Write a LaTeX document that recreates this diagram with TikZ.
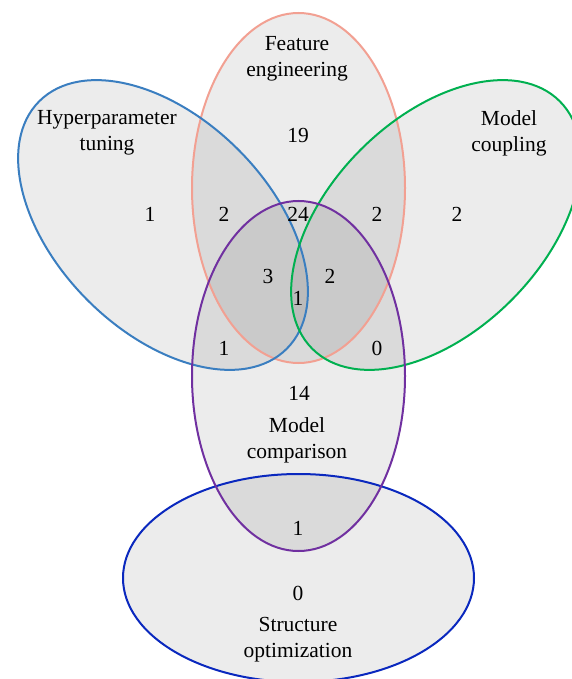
\documentclass[tikz,border=0pt]{standalone}
\usepackage{fontspec}
\setmainfont{Liberation Serif}
\definecolor{hypblue}{RGB}{58,126,192}
\definecolor{featsalmon}{RGB}{242,160,146}
\definecolor{cplgreen}{RGB}{0,176,80}
\definecolor{cmppurple}{RGB}{112,48,160}
\definecolor{strblue}{RGB}{10,40,190}
\tikzset{
  setfill/.style={fill=black, fill opacity=0.075},
  setline/.style={line width=2pt},
  lbl/.style={font=\fontsize{21.5}{26}\selectfont, align=center, inner sep=0pt},
  num/.style={font=\fontsize{21.5}{26}\selectfont, inner sep=0pt},
}
\begin{document}
\begin{tikzpicture}[x=1pt, y=-1pt]
\useasboundingbox (0,0) rectangle (571,679);

% set centres
\coordinate (cFeat) at (298.5,188);
\coordinate (cCmp)  at (298.5,376);
\coordinate (cStr)  at (298.5,578);
\coordinate (cHyp)  at (163,225);
\coordinate (cCpl)  at (436,225);

% translucent fills
\fill[setfill] (cStr) ellipse [x radius=175.5pt, y radius=104pt];
\fill[setfill] (cCmp) ellipse [x radius=106.5pt, y radius=175pt];
\fill[setfill] (cFeat) ellipse [x radius=106.5pt, y radius=175pt];
\fill[setfill, rotate around={-45:(cHyp)}] (cHyp) ellipse [x radius=175pt, y radius=106.5pt];
\fill[setfill, rotate around={45:(cCpl)}] (cCpl) ellipse [x radius=175pt, y radius=106.5pt];

% outlines
\draw[setline, strblue] (cStr) ellipse [x radius=175.5pt, y radius=104pt];
\draw[setline, featsalmon] (cFeat) ellipse [x radius=106.5pt, y radius=175pt];
\draw[setline, hypblue, rotate around={-45:(cHyp)}] (cHyp) ellipse [x radius=175pt, y radius=106.5pt];
\draw[setline, cplgreen, rotate around={45:(cCpl)}] (cCpl) ellipse [x radius=175pt, y radius=106.5pt];
\draw[setline, cmppurple] (cCmp) ellipse [x radius=106.5pt, y radius=175pt];

% set names
\node[lbl] (tFeat) at (297,59) {Feature\\engineering};
\node[lbl] (tHyp)  at (107,133) {Hyperparameter\\tuning};
\node[lbl] (tCpl)  at (509,133) {Model\\coupling};
\node[lbl] (tCmp)  at (297,440) {Model\\comparison};
\node[lbl] (tStr)  at (298,640) {Structure\\optimization};

% region counts
\node[num] (n19)  at (298,135) {19};
\node[num] (nH)   at (150,214) {1};
\node[num] (nHF)  at (224,214) {2};
\node[num] (nFC)  at (298,214) {24};
\node[num] (nFM)  at (377,214) {2};
\node[num] (nM)   at (457,214) {2};
\node[num] (nHFC) at (268,276) {3};
\node[num] (nFCM) at (330,276) {2};
\node[num] (nAll) at (298,298) {1};
\node[num] (nHC)  at (224,348) {1};
\node[num] (nCM)  at (377,348) {0};
\node[num] (nC)   at (299,393) {14};
\node[num] (nCS)  at (298,528) {1};
\node[num] (nS)   at (298,593) {0};
\end{tikzpicture}
\end{document}
